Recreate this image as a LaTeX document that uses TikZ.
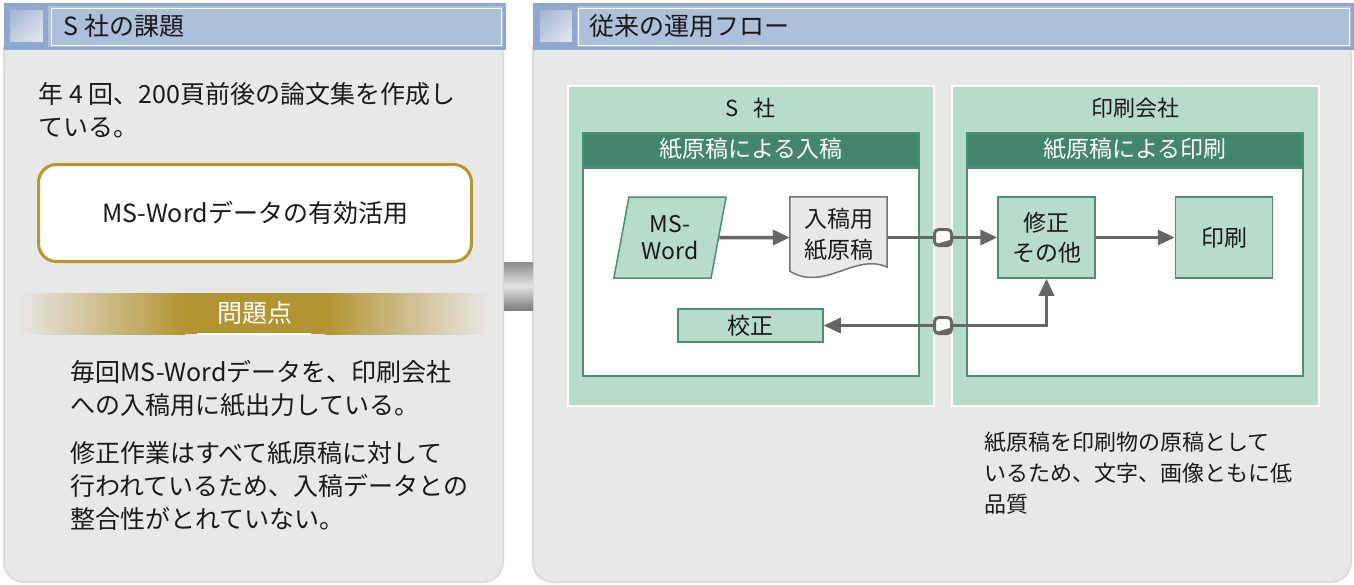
\documentclass[tikz,border=0pt]{standalone}
\usepackage{fontspec}
\setmainfont{Noto Sans CJK JP}
\usetikzlibrary{arrows.meta,positioning,shapes.geometric,calc,shadings}

\definecolor{panelgray}{HTML}{E8E8E8}
\definecolor{panelrim}{HTML}{DCDCDC}
\definecolor{barblue}{HTML}{ADC0DA}
\definecolor{barrim}{HTML}{8FA8CF}
\definecolor{icondark}{HTML}{9CAFCE}
\definecolor{iconlight}{HTML}{E8EDF5}
\definecolor{gold}{HTML}{B8962E}
\definecolor{goldband}{HTML}{B39432}
\definecolor{mint}{HTML}{B8DCCB}
\definecolor{pine}{HTML}{44856E}
\definecolor{pinerim}{HTML}{4A8F72}
\definecolor{flowgray}{HTML}{666666}
\definecolor{docfill}{HTML}{E8E8E8}
\definecolor{linkdark}{HTML}{8C8C8C}
\definecolor{linklight}{HTML}{E2E2E2}
\definecolor{inkblack}{HTML}{1A1A1A}

\newcommand{\fsz}[2]{\fontsize{#1}{#2}\selectfont}

\begin{document}
\begin{tikzpicture}[
  x=1pt, y=-1pt,
  font=\fsz{25}{33},
  text=inkblack,
  >={Triangle[length=17pt, width=15pt]},
  panel/.style={fill=panelgray, draw=panelrim, line width=2pt, rounded corners=20pt},
  headbar/.style={draw=barrim, line width=3pt, fill=barblue, inner sep=0pt},
  headicon/.style={draw=barrim, line width=5pt, upper left=icondark, upper right=icondark!50!iconlight,
                   lower left=icondark!50!iconlight, lower right=iconlight},
  goalbox/.style={draw=gold, line width=3pt, fill=white, rounded corners=18pt,
                  minimum width=433pt, minimum height=97pt},
  orgbox/.style={fill=mint, draw=white, line width=1.5pt, anchor=north west, minimum height=320pt},
  lanehead/.style={fill=pine, draw=pinerim, line width=1.5pt, text=white, font=\fsz{23}{28},
                   minimum width=336pt, minimum height=33pt, inner sep=0pt},
  lanebody/.style={fill=white, draw=pinerim, line width=2pt, minimum width=336pt, minimum height=208pt},
  flowbox/.style={draw=pinerim, line width=1.5pt, fill=mint, align=center, font=\fsz{23}{30},
                  minimum width=97pt, minimum height=81pt, inner sep=2pt},
  parabox/.style={flowbox, trapezium, trapezium left angle=77, trapezium right angle=103,
                  trapezium stretches=true, minimum width=113pt, font=\fsz{23}{27}},
  docbox/.style={minimum width=97pt, minimum height=81pt, inner sep=0pt},
  junction/.style={draw=flowgray, line width=3pt, fill=white, rounded corners=4pt,
                   minimum width=17pt, minimum height=16pt, inner sep=0pt, outer sep=0pt},
  flow/.style={draw=flowgray, line width=3.5pt}
]
\fill[white] (0,0) rectangle (1354,584);
\useasboundingbox (0,0) rectangle (1354,584);

% Panels
\path[panel] (4,46) -- (4,582) -- (503,582) -- (503,46);
\path[panel] (533,46) -- (533,582) -- (1351,582) -- (1351,46);

\node[headbar, anchor=north west, minimum width=499pt, minimum height=44pt] (leftBar) at (4,3) {};
\node[headbar, anchor=north west, minimum width=818pt, minimum height=44pt] (rightBar) at (533,3) {};
\draw[white, line width=1pt] ($(leftBar.north west)+(47,5)$) rectangle ($(leftBar.south east)+(-5,-5)$);
\draw[white, line width=1pt] ($(rightBar.north west)+(45,5)$) rectangle ($(rightBar.south east)+(-5,-5)$);
\shadedraw[headicon] (7,7) rectangle (45,44);
\shadedraw[headicon] (537,7) rectangle (574,44);
\node[anchor=west] (leftTitle) at (60,26) {S 社の課題};
\node[anchor=west] (rightTitle) at (586,26) {従来の運用フロー};

% Link between panels
\shade[top color=linkdark, bottom color=linkdark!90!black, middle color=linklight] (504,262) rectangle (533,310);

% Left panel
\node[anchor=west, align=left] (intro) at (35,110.5) {年 4 回、200頁前後の論文集を作成し\\ている。};
\node[goalbox] (goal) at (255,213) {MS-Wordデータの有効活用};

\shade[left color=panelgray, right color=goldband] (18,293) rectangle (185,334);
\fill[goldband] (185,293) rectangle (325,334);
\shade[left color=goldband, right color=panelgray] (325,293) rectangle (490,334);
\draw[white, line width=1.5pt] (197,334) -- (311,334);
\node[text=white] (issue) at (255,313) {問題点};

\node[anchor=west, align=left] (issueA) at (67,388.5) {毎回MS-Wordデータを、印刷会社\\への入稿用に紙出力している。};
\node[anchor=west, align=left] (issueB) at (67,485.5) {修正作業はすべて紙原稿に対して\\行われているため、入稿データとの\\整合性がとれていない。};

% Right panel: companies and lanes
\node[orgbox, minimum width=366pt] (sCo) at (567,85) {};
\node[orgbox, minimum width=367pt] (printCo) at (951,85) {};
\node[font=\fsz{22}{28}] (sName) at ($(sCo.north)+(0,23)$) {S\hspace{0.7em}社};
\node[font=\fsz{22}{28}] (pName) at ($(printCo.north)+(0,23)$) {印刷会社};

\node[lanehead, anchor=north west] (sHead) at (582,132) {紙原稿による入稿};
\node[lanebody, anchor=north] (sLane) at (sHead.south) {};
\node[lanehead, anchor=north west] (pHead) at (966,132) {紙原稿による印刷};
\node[lanebody, anchor=north] (pLane) at (pHead.south) {};

% Flow nodes
\node[parabox] (word) at (670,237.5) {MS-\\Word};
\node[docbox] (doc) at (838.5,237.5) {};
\filldraw[fill=docfill, draw=flowgray!90, line width=1.5pt]
  (doc.north west) -- (doc.north east) -- ($(doc.south east)+(0,-11)$)
  .. controls ($(doc.south east)+(-32,-26)$) and ($(doc.south west)+(35,14)$) .. ($(doc.south west)+(0,-7)$) -- cycle;
\node[align=center, font=\fsz{23}{31}] (docText) at ($(doc.center)+(0,-3)$) {入稿用\\紙原稿};
\node[flowbox] (fix) at (1046.5,237.5) {修正\\その他};
\node[flowbox, right=79pt of fix] (print) {印刷};
\node[flowbox, minimum width=145pt, minimum height=33pt] (proof) at (750.5,325.5) {校正};
\node[junction] (jA) at (943,237.5) {};
\node[junction] (jB) at (943,325.5) {};
\foreach \j in {jA,jB}
  \fill[flowgray] ($(\j.south west)+(1.5,-1.5)$) -- ($(\j.south east)+(-1.5,-5.5)$) -- ($(\j.south east)+(-1.5,-1.5)$) -- cycle;

% Arrows
\draw[flow, ->] (word.east) -- (doc.west);
\draw[flow] (doc.east) -- (jA.west);
\draw[flow, ->] (jA.east) -- (fix.west);
\draw[flow, ->] (fix.east) -- (print.west);
\draw[flow, ->] (jB.west) -- (proof.east);
\draw[flow, ->] (jB.east) -| (fix.south);

% Note
\node[anchor=west, align=left, font=\fsz{22}{31}] (note) at (981,473) {紙原稿を印刷物の原稿として\\いるため、文字、画像ともに低\\品質};
\end{tikzpicture}
\end{document}
